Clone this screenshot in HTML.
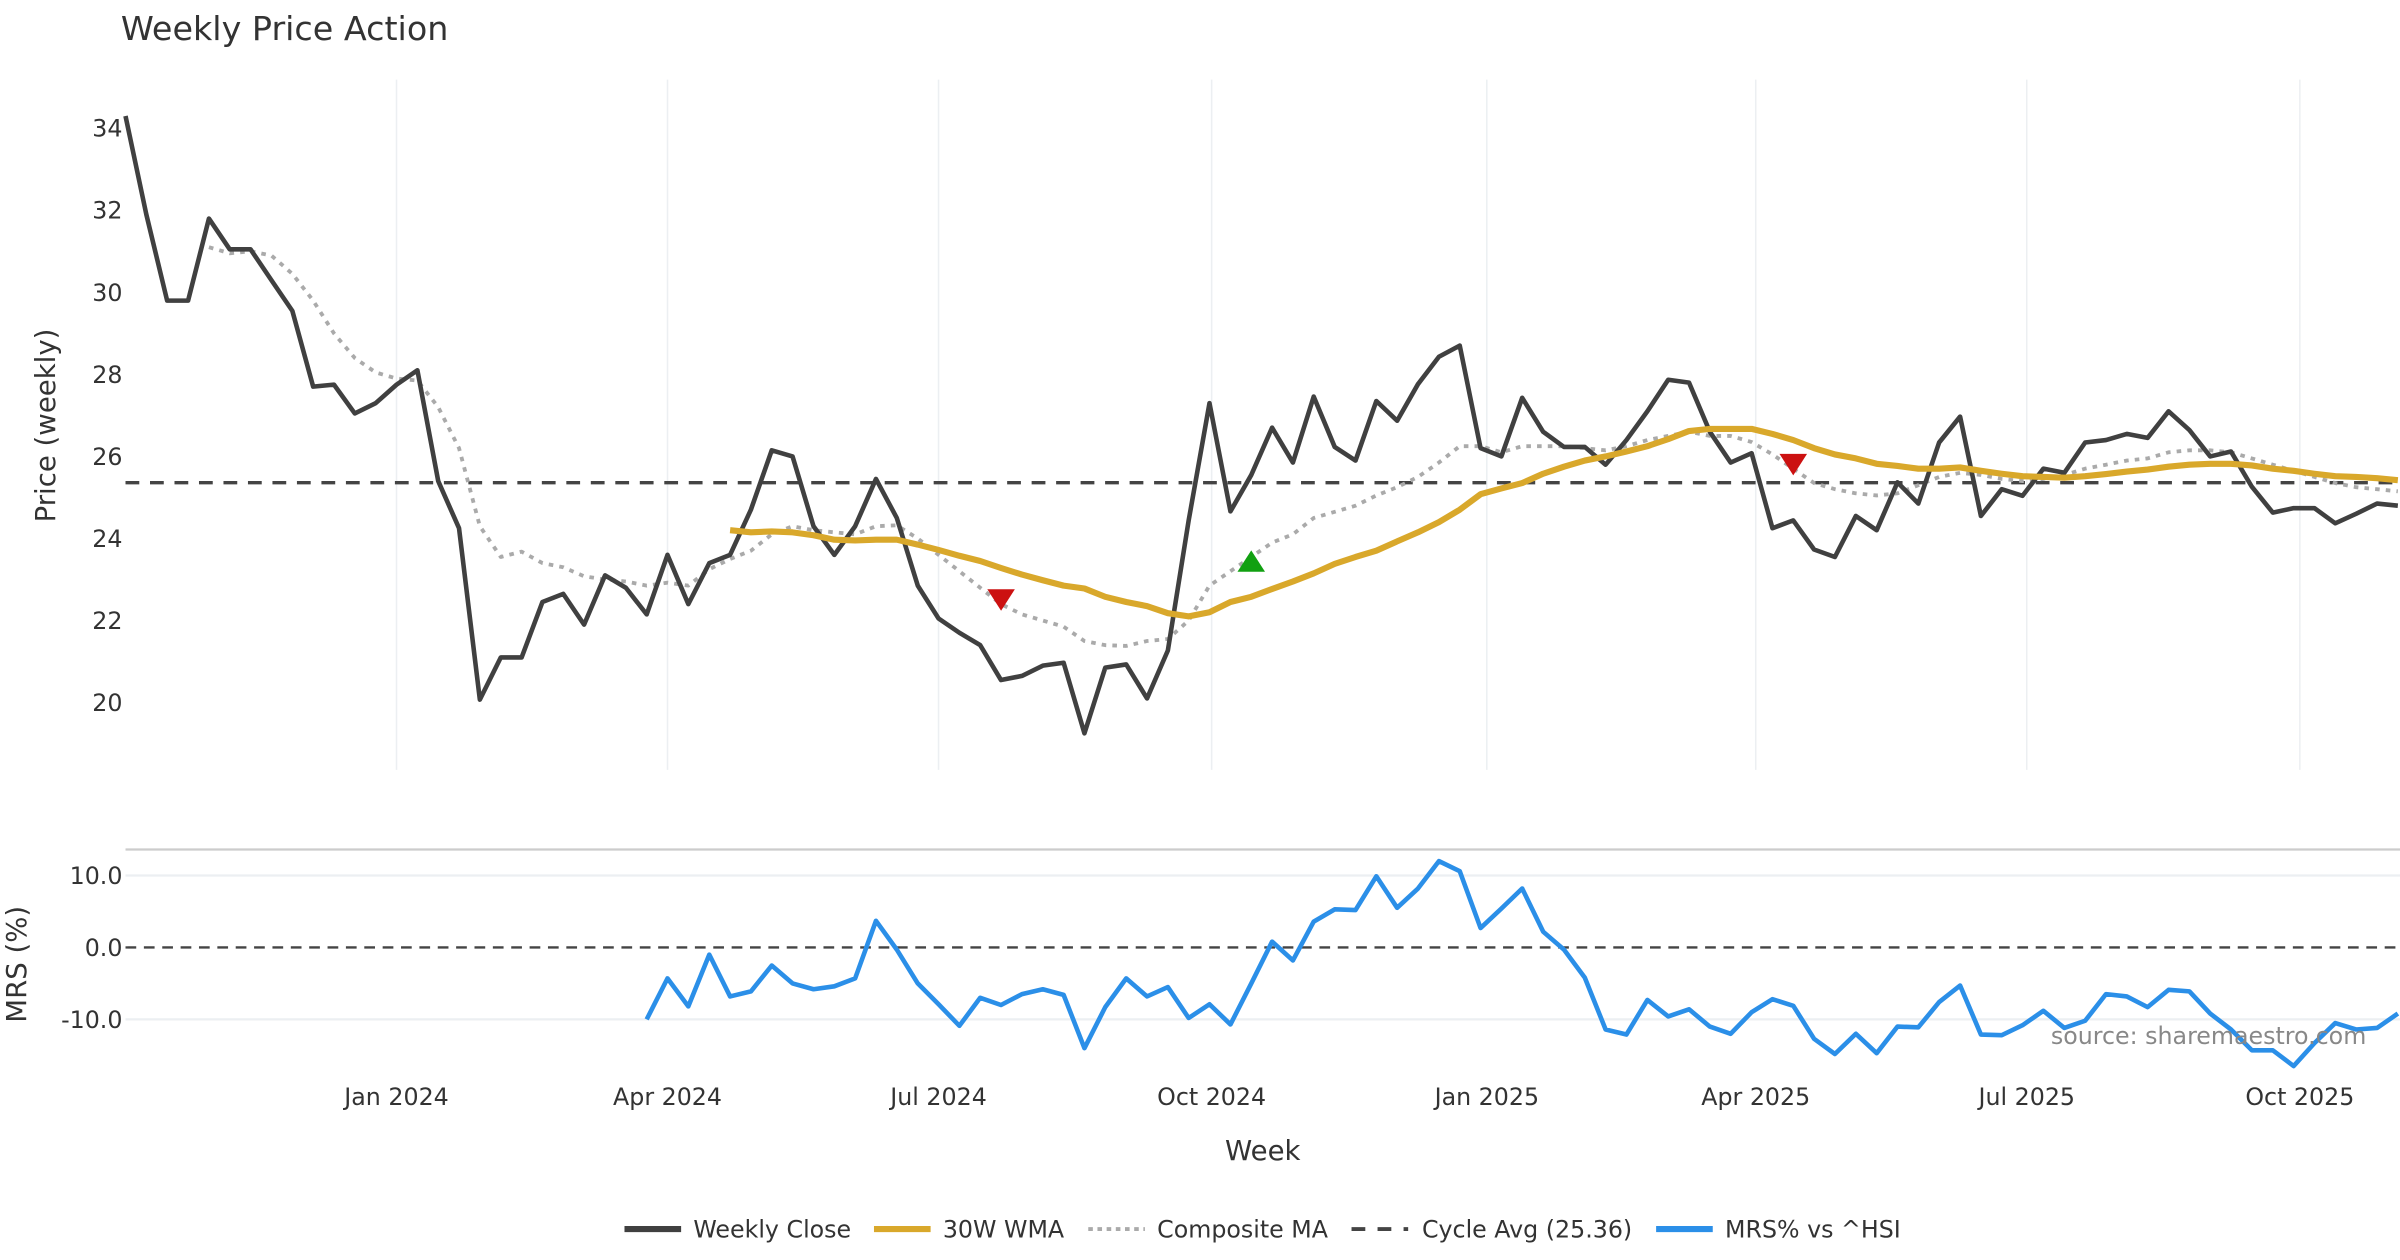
<!DOCTYPE html>
<html><head><meta charset="utf-8"><style>
html,body{margin:0;padding:0;background:#fff;}
svg{display:block;font-family:"DejaVu Sans","Liberation Sans",sans-serif;}
</style></head><body>
<svg id="chart" width="2400" height="1260" viewBox="0 0 1568 823.2" xmlns="http://www.w3.org/2000/svg">
<rect width="1568" height="823.2" fill="#fff"/>
<text x="79" y="26" font-size="21.8" fill="#333">Weekly Price Action</text>
<g id="grid"></g>
<g id="price"></g>
<g id="mrs"></g>
<text transform="translate(36,278) rotate(-90)" text-anchor="middle" font-size="18" fill="#333">Price (weekly)</text>
<text transform="translate(17,630) rotate(-90)" text-anchor="middle" font-size="18" fill="#333">MRS (%)</text>
<text x="825" y="758" text-anchor="middle" font-size="18" fill="#333">Week</text>
<text x="1546" y="682" text-anchor="end" font-size="15.5" fill="#888">source: sharemaestro.com</text>
<g id="legend" font-size="15.5" fill="#333">
<g><line x1="408" y1="803" x2="445" y2="803" stroke="#404040" stroke-width="4"/><text x="453" y="808.5">Weekly Close</text></g>
<g><line x1="571" y1="803" x2="608" y2="803" stroke="#d9a82b" stroke-width="4"/><text x="616" y="808.5">30W WMA</text></g>
<g><line x1="711" y1="803" x2="748" y2="803" stroke="#aaa" stroke-width="2.5" stroke-dasharray="3,3"/><text x="756" y="808.5">Composite MA</text></g>
<g><line x1="883" y1="803" x2="920" y2="803" stroke="#444" stroke-width="2.5" stroke-dasharray="9,8"/><text x="929" y="808.5">Cycle Avg (25.36)</text></g>
<g><line x1="1082" y1="803" x2="1119" y2="803" stroke="#2b8fe8" stroke-width="4"/><text x="1127" y="808.5">MRS% vs ^HSI</text></g>
</g>
</svg>
<script>
const closeVals=[34.3,31.9,29.8,29.8,31.8,31.05,31.05,30.3,29.55,27.7,27.75,27.05,27.3,27.75,28.1,25.4,24.25,20.07,21.1,21.1,22.45,22.65,21.9,23.1,22.8,22.15,23.6,22.4,23.4,23.6,24.7,26.15,26.0,24.3,23.6,24.3,25.45,24.5,22.85,22.05,21.7,21.4,20.55,20.65,20.9,20.97,19.25,20.85,20.93,20.1,21.27,24.44,27.3,24.66,25.55,26.7,25.85,27.46,26.23,25.9,27.35,26.87,27.76,28.43,28.7,26.2,26.0,27.43,26.6,26.23,26.23,25.8,26.4,27.1,27.87,27.8,26.6,25.85,26.08,24.25,24.44,23.73,23.55,24.55,24.2,25.37,24.85,26.34,26.97,24.55,25.2,25.04,25.7,25.6,26.34,26.4,26.55,26.45,27.1,26.64,26.0,26.12,25.26,24.63,24.74,24.74,24.37,24.6,24.85,24.8];
const wmaStart=29;
const wmaVals=[24.2,24.15,24.17,24.15,24.08,23.97,23.95,23.97,23.97,23.85,23.72,23.58,23.45,23.28,23.12,22.98,22.85,22.78,22.58,22.45,22.35,22.18,22.1,22.2,22.45,22.58,22.77,22.95,23.15,23.38,23.55,23.7,23.93,24.15,24.4,24.7,25.08,25.22,25.35,25.58,25.75,25.9,26.0,26.12,26.25,26.42,26.62,26.67,26.67,26.67,26.55,26.4,26.2,26.05,25.95,25.82,25.77,25.7,25.7,25.73,25.65,25.58,25.52,25.5,25.48,25.52,25.57,25.63,25.68,25.75,25.8,25.82,25.82,25.78,25.7,25.65,25.58,25.52,25.5,25.47,25.42];
const compStart=4;
const compVals=[31.1,30.95,31.0,30.9,30.45,29.8,29.0,28.4,28.05,27.9,27.85,27.2,26.2,24.3,23.55,23.68,23.4,23.3,23.08,23.0,22.95,22.85,22.92,22.85,23.25,23.5,23.7,24.1,24.3,24.2,24.15,24.1,24.3,24.32,24.0,23.6,23.2,22.8,22.4,22.15,22.0,21.85,21.5,21.4,21.38,21.5,21.55,22.0,22.85,23.2,23.55,23.9,24.1,24.5,24.65,24.8,25.05,25.25,25.5,25.85,26.25,26.25,26.1,26.25,26.25,26.25,26.2,26.15,26.25,26.4,26.5,26.6,26.5,26.5,26.35,26.05,25.7,25.35,25.2,25.1,25.05,25.1,25.3,25.5,25.6,25.55,25.45,25.4,25.45,25.55,25.7,25.8,25.9,25.95,26.1,26.15,26.15,26.1,25.95,25.8,25.65,25.5,25.35,25.25,25.2,25.15];
const cycleAvg=25.36;
const mrsStart=25;
const mrsVals=[-10.0,-4.3,-8.2,-1.0,-6.8,-6.1,-2.5,-5.0,-5.8,-5.4,-4.3,3.7,-0.3,-5.0,-7.9,-10.9,-7.0,-8.0,-6.5,-5.8,-6.6,-14.0,-8.3,-4.3,-6.8,-5.5,-9.8,-7.9,-10.7,-5.0,0.8,-1.8,3.6,5.3,5.2,9.9,5.5,8.2,12.0,10.6,2.7,5.4,8.2,2.2,-0.3,-4.2,-11.4,-12.1,-7.3,-9.6,-8.6,-11.0,-12.0,-9.0,-7.2,-8.1,-12.7,-14.8,-12.0,-14.7,-11.0,-11.1,-7.6,-5.3,-12.1,-12.2,-10.8,-8.8,-11.2,-10.2,-6.5,-6.8,-8.3,-5.9,-6.1,-9.2,-11.4,-14.3,-14.3,-16.5,-13.3,-10.5,-11.4,-11.2,-9.2];
const sellIdx=[42,80];
const sellVals=[22.5,25.8];
const buyIdx=[54];
const buyVals=[23.45];
const priceTicks=[20,22,24,26,28,30,32,34];
const mrsTicks=[-10,0,10];
const xTickLabels=["Jan 2024","Apr 2024","Jul 2024","Oct 2024","Jan 2025","Apr 2025","Jul 2025","Oct 2025"];
const xTickWeeks=[13,26,39,52.1,65.3,78.2,91.2,104.3];

const NS="http://www.w3.org/2000/svg";
const X=i=>82+i*13.62;
const YP=v=>459-(v-20)*26.8;
const YM=v=>619-v*4.7;
function mk(tag,attrs,parent){const e=document.createElementNS(NS,tag);for(const k in attrs)e.setAttribute(k,attrs[k]);parent.appendChild(e);return e;}
const grid=document.getElementById('grid'),price=document.getElementById('price'),mrs=document.getElementById('mrs');

xTickWeeks.forEach((w,k)=>{
  const gl=mk('line',{x1:X(w),x2:X(w),y1:52,y2:503,stroke:'#eceff2','stroke-width':1},grid);
  
  
  const t=mk('text',{x:X(w),y:722,'text-anchor':'middle','font-size':15.5,fill:'#333'},grid);
  t.textContent=xTickLabels[k];
  
  
});
priceTicks.forEach(v=>{
  const t=mk('text',{x:80,y:YP(v)+5.5,'text-anchor':'end','font-size':15.5,fill:'#333'},grid);
  t.textContent=v;
  
  
});
const topb=mk('line',{x1:82,x2:1568,y1:555,y2:555,stroke:'#ccc','stroke-width':1.5},grid);


mrsTicks.forEach(v=>{
  if(v!==0){const g=mk('line',{x1:82,x2:1568,y1:YM(v),y2:YM(v),stroke:'#eceff2','stroke-width':1.5},grid);
  
  }
  const t=mk('text',{x:80,y:YM(v)+5.5,'text-anchor':'end','font-size':15.5,fill:'#333'},grid);
  t.textContent=v.toFixed(1);
  
  
});
const zl=mk('line',{x1:82,x2:1568,y1:YM(0),y2:YM(0),stroke:'#444','stroke-width':1.5,'stroke-dasharray':'7,5'},mrs);



function poly(vals,start,yf,attrs,parent){
  const pts=vals.map((v,j)=>X(start+j).toFixed(1)+','+yf(v).toFixed(1)).join(' ');
  return mk('polyline',Object.assign({points:pts,fill:'none','stroke-linejoin':'round'},attrs),parent);
}
const ca=mk('line',{x1:82,x2:1568,y1:YP(cycleAvg),y2:YP(cycleAvg),stroke:'#444','stroke-width':2.2,'stroke-dasharray':'9,7'},price);


const cm=poly(compVals,compStart,YP,{stroke:'#aaa','stroke-width':2.5,'stroke-dasharray':'3,4'},price);


const cl=poly(closeVals,0,YP,{stroke:'#404040','stroke-width':3},price);


const wm=poly(wmaVals,wmaStart,YP,{stroke:'#d9a82b','stroke-width':4},price);


sellIdx.forEach((i,k)=>{
  const x=X(i),y=YP(sellVals[k]);
  const p=mk('polygon',{points:`${x-9},${y-7} ${x+9},${y-7} ${x},${y+7}`,fill:'#cc1111'},price);
  
  
});
buyIdx.forEach((i,k)=>{
  const x=X(i),y=YP(buyVals[k]);
  const p=mk('polygon',{points:`${x-9},${y+7} ${x+9},${y+7} ${x},${y-7}`,fill:'#11a011'},price);
  
  
});
const ml=poly(mrsVals,mrsStart,YM,{stroke:'#2b8fe8','stroke-width':3},mrs);


</script>
</body></html>
